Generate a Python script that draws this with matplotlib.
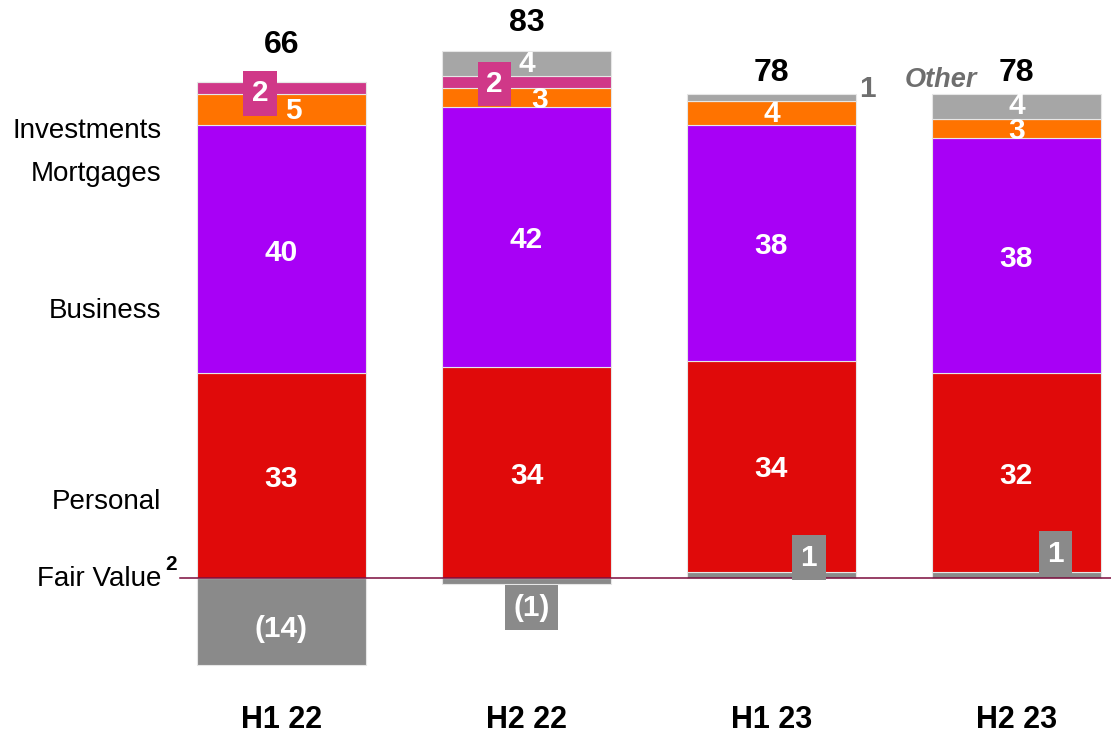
import matplotlib.pyplot as plt
import numpy as np

# Income by segment, half-yearly
periods = ['H1 22', 'H2 22', 'H1 23', 'H2 23']
fair_value = [-14, -1, 1, 1]
personal = [33, 34, 34, 32]
business = [40, 42, 38, 38]
mortgages = [5, 3, 4, 3]
investments = [2, 2, 0, 0]
other = [0, 4, 1, 4]
totals = [66, 83, 78, 78]

RED = '#E00A0A'
PURPLE = '#A800F6'
ORANGE = '#FF7300'
PINK = '#D03888'
GREY_FV = '#8A8A8A'
GREY_OTHER = '#A6A6A6'
EDGE = '#E6E6E6'

plt.rcParams['font.family'] = ['Liberation Sans', 'DejaVu Sans']

fig = plt.figure(figsize=(11.11, 7.38), dpi=100)
ax = fig.add_axes([0, 0, 1, 1])
ax.set_xlim(-1.149, 3.386)
ax.set_ylim(-25.81, 93.23)
ax.axis('off')

x = np.arange(len(periods))
w = 0.69

# Fair value sits on its own below / at the base
ax.bar(x, fair_value, w, color=GREY_FV, edgecolor=EDGE, linewidth=0.8, zorder=2)
base = np.array([max(v, 0) for v in fair_value], dtype=float)
segs = [(personal, RED), (business, PURPLE), (mortgages, ORANGE),
        (investments, PINK), (other, GREY_OTHER)]
mids = []
for vals, col in segs:
    vals = np.array(vals, dtype=float)
    ax.bar(x, vals, w, bottom=base, color=col, edgecolor=EDGE, linewidth=0.8, zorder=2)
    mids.append(base + vals / 2)
    base = base + vals
tops = base

# zero line
ax.plot([-0.415, 3.386], [0, 0], color='#7A0C3C', lw=1.1, zorder=3)

FS = 21.5
white = dict(color='white', fontsize=FS, fontweight='bold', ha='center', va='center', zorder=5)

# big segment values
for i in range(len(periods)):
    ax.text(x[i], mids[0][i] - 0.5, str(personal[i]), **white)
    ax.text(x[i], mids[1][i] - 0.5, str(business[i]), **white)

# totals
total_pad = [3.5, 2.1, 1.1, 1.1]
for i, t in enumerate(totals):
    ax.text(x[i], tops[i] + total_pad[i], str(t), fontsize=23, fontweight='bold',
            ha='center', va='bottom', color='black')

# small segment values
box = lambda c: dict(boxstyle='square,pad=0.28', fc=c, ec='none')
ax.text(0.05, mids[2][0] - 0.2, str(mortgages[0]), **white)
ax.text(-0.088, mids[3][0] - 0.8, str(investments[0]), **white, bbox=box(PINK))
ax.text(1.0, mids[4][1] - 0.1, str(other[1]), **white)
ax.text(0.87, mids[3][1] - 0.3, str(investments[1]), **white, bbox=box(PINK))
ax.text(1.055, mids[2][1] - 0.4, str(mortgages[1]), **white)
ax.text(2.0, mids[2][2] - 0.1, str(mortgages[2]), **white)
ax.text(2.39, mids[4][2] + 1.4, str(other[2]), color='#6E6E6E', fontsize=FS,
        fontweight='bold', ha='center', va='center')
ax.text(3.0, mids[4][3] + 0.2, str(other[3]), **white)
ax.text(3.0, mids[2][3] - 0.4, str(mortgages[3]), **white)
ax.text(2.69, 80.3, 'Other', color='#6E6E6E', fontsize=19.5, fontweight='bold',
        fontstyle='italic', ha='center', va='center')

# fair value labels
ax.text(0, fair_value[0] / 2 - 1.2, '(%d)' % abs(fair_value[0]), **white)
ax.text(1.02, -4.8, '(%d)' % abs(fair_value[1]), **white, bbox=box(GREY_FV))
ax.text(2.153, 3.3, str(fair_value[2]), **white, bbox=box(GREY_FV))
ax.text(3.16, 3.9, str(fair_value[3]), **white, bbox=box(GREY_FV))

# row labels on the left
row_x = -0.49
for name, yy in [('Investments', 72.1), ('Mortgages', 65.2), ('Business', 43.1),
                 ('Personal', 12.3), ('Fair Value', -0.2)]:
    ax.text(row_x, yy, name, fontsize=20, ha='right', va='center', color='black')
ax.text(-0.452, 2.2, '2', fontsize=15, fontweight='bold', ha='center', va='center')

# period labels
for i, p in enumerate(periods):
    ax.text(x[i], -22.9, p, fontsize=22, fontweight='bold', ha='center', va='center')

fig.savefig('out.png', dpi=100)
